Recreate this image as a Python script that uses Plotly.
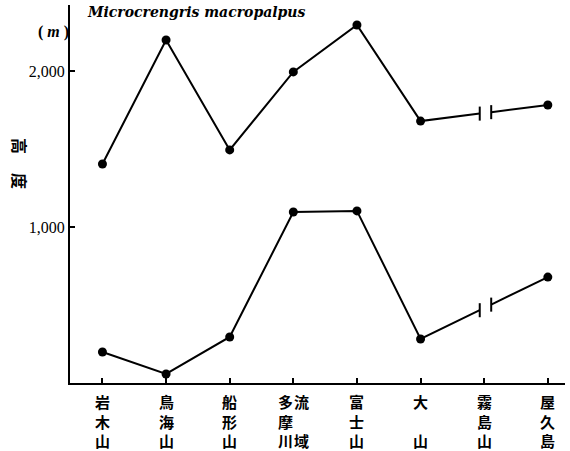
import plotly.graph_objects as go

# Mountains (x categories), one vertical label per site
sites = ["岩木山", "鳥海山", "船形山", "多摩川流域", "富士山", "大山", "霧島山", "屋久島"]
site_labels = ["岩<br>木<br>山", "鳥<br>海<br>山", "船<br>形<br>山", None,
               "富<br>士<br>山", "大<br>　<br>山", "霧<br>島<br>山", "屋<br>久<br>島"]

# Upper and lower altitude limits (m); 霧島山 has no record (None)
upper = [1404, 2199, 1494, 1994, 2295, 1679, None, 1782]
lower = [199, 58, 295, 1096, 1103, 282, None, 679]

y_ticks = [1000, 2000]
y_tick_text = ["1,000", "2,000"]

idx = list(range(len(sites)))
BREAK_C = 6.02
BREAK_HALF = 0.09
BAR_H = 45

fig = go.Figure()
shapes = []


def add_series(vals):
    xs, ys, sizes = [], [], []
    known = [(i, v) for i, v in zip(idx, vals) if v is not None]
    for k, (i, v) in enumerate(known):
        if k > 0 and i - known[k - 1][0] > 1:
            # broken segment across the missing site
            i0, v0 = known[k - 1]
            for j, xb in enumerate((BREAK_C - BREAK_HALF, BREAK_C + BREAK_HALF)):
                yb = v0 + (v - v0) * (xb - i0) / (i - i0)
                xs.append(xb); ys.append(yb); sizes.append(0)
                if j == 0:
                    xs.append(None); ys.append(None); sizes.append(0)
                shapes.append(dict(type="line", xref="x", yref="y",
                                   x0=xb, x1=xb, y0=yb - BAR_H, y1=yb + BAR_H,
                                   line=dict(color="black", width=2)))
        xs.append(i); ys.append(v); sizes.append(9)
    fig.add_trace(go.Scatter(x=xs, y=ys, mode="lines+markers",
                             line=dict(color="black", width=2),
                             marker=dict(color="black", size=sizes, opacity=1,
                                         line=dict(color="black", width=0)),
                             connectgaps=False, showlegend=False,
                             hoverinfo="skip"))


add_series(upper)
add_series(lower)

annotations = []
lab_font = dict(family="Noto Sans CJK JP", size=15, color="black")
for i, lab in enumerate(site_labels):
    if lab is None:
        continue
    annotations.append(dict(x=i, y=0, xref="x", yref="y", text="<b>" + lab + "</b>",
                            showarrow=False, yanchor="top", yshift=-6,
                            font=lab_font, align="center"))
# 多摩川流域 in two columns
annotations.append(dict(x=3, y=0, xref="x", yref="y", text="<b>多<br>摩<br>川</b>", showarrow=False,
                        yanchor="top", yshift=-6, xshift=-8, font=lab_font))
annotations.append(dict(x=3, y=0, xref="x", yref="y", text="<b>流<br>　<br>域</b>", showarrow=False,
                        yanchor="top", yshift=-6, xshift=8, font=lab_font))

# pixel-positioned text (converted to paper coords below)
pix = [
    dict(x=85, y=12, text="<b><i>Microcrengris macropalpus</i></b>", xanchor="left",
         font=dict(family="DejaVu Serif", size=14, color="black")),
    dict(x=53, y=32, text="<b>( <i>m</i> )</b>", xanchor="center",
         font=dict(family="Liberation Serif", size=16, color="black")),
    dict(x=20, y=146, text="<b>高</b>", xanchor="center", textangle=90,
         font=dict(family="Noto Sans CJK JP", size=16, color="black")),
    dict(x=20, y=181, text="<b>度</b>", xanchor="center", textangle=90,
         font=dict(family="Noto Sans CJK JP", size=16, color="black")),
]

W, H = 570, 451
ML, MR, MT, MB = 70, 5, 5, 68
for a in pix:
    a.update(xref="paper", yref="paper", showarrow=False, yanchor="middle",
             x=(a["x"] - ML) / (W - ML - MR),
             y=1 - (a["y"] - MT) / (H - MT - MB))
    annotations.append(a)

fig.update_layout(
    width=W, height=H,
    margin=dict(l=ML, r=MR, t=MT, b=MB),
    paper_bgcolor="white", plot_bgcolor="white",
    shapes=shapes, annotations=annotations,
    xaxis=dict(range=[-0.51, 7.27], tickvals=idx, showticklabels=False,
               ticks="inside", ticklen=5, tickwidth=1.5, tickcolor="black",
               showline=True, linecolor="black", linewidth=2,
               showgrid=False, zeroline=False),
    yaxis=dict(range=[0, 2423], tickvals=y_ticks, ticktext=y_tick_text,
               ticks="inside", ticklen=5, tickwidth=1.5, tickcolor="black",
               showline=True, linecolor="black", linewidth=2,
               showgrid=False, zeroline=False,
               tickfont=dict(family="Liberation Serif", size=16, color="black")),
)

fig.write_html("out.html")
